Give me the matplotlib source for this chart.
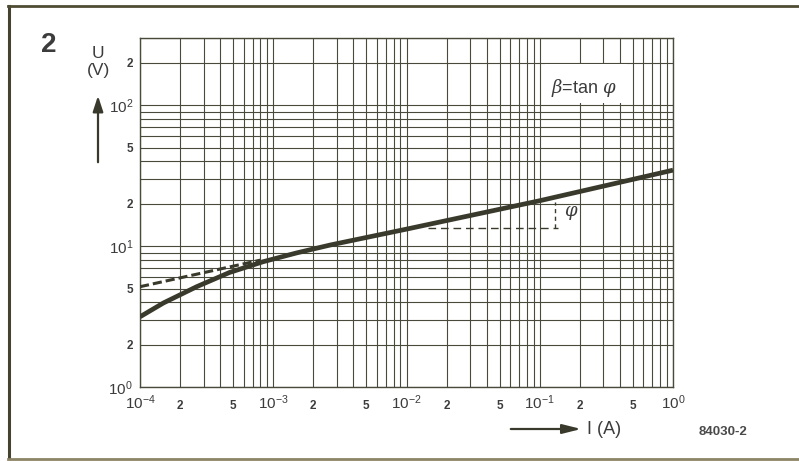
import numpy as np
import matplotlib.pyplot as plt
from matplotlib.patches import Rectangle, FancyArrowPatch
from matplotlib.lines import Line2D
from matplotlib.ticker import LogLocator

plt.rcParams['font.family'] = ['Liberation Sans', 'DejaVu Sans']
plt.rcParams['mathtext.fontset'] = 'custom'
plt.rcParams['mathtext.rm'] = 'Liberation Sans'
plt.rcParams['mathtext.it'] = 'DejaVu Serif:italic'

# values
I_curve = [1e-4, 1.5e-4, 2.66e-4, 4.7e-4, 8.4e-4, 1.5e-3, 2.7e-3, 1e-2, 1e-1, 1.0]
U_curve = [3.15, 3.95, 5.15, 6.5, 7.75, 8.95, 10.2, 13.2, 21.0, 34.6]
I_asym = [1e-4, 8e-4]
U_asym = [5.15, 7.95]
I_phi_h = [0.0145, 0.137]
U_phi_h = [13.35, 13.35]
I_phi_v = [0.13, 0.13]
U_phi_v = [13.35, 20.6]

x_ticks = [1e-4, 2e-4, 5e-4, 1e-3, 2e-3, 5e-3, 1e-2, 2e-2, 5e-2, 1e-1, 2e-1, 5e-1, 1.0]
x_labels = ['$10^{-4}$', '2', '5', '$10^{-3}$', '2', '5', '$10^{-2}$', '2', '5',
            '$10^{-1}$', '2', '5', '$10^{0}$']
y_ticks = [1, 2, 5, 10, 20, 50, 100, 200]
y_labels = ['$10^{0}$', '2', '5', '$10^{1}$', '2', '5', '$10^{2}$', '2']

ink = '#3a3a2c'
txt = '#3c3c3c'
W, H = 799, 461

def fx(x):
    return x / W

def fy(y):
    return 1 - y / H

fig = plt.figure(figsize=(7.99, 4.61), dpi=100)
fig.patch.set_facecolor('white')
ax = fig.add_axes([fx(140), fy(387), 533 / W, 349 / H])

ax.set_xscale('log')
ax.set_yscale('log')
ax.set_xlim(1e-4, 1)
ax.set_ylim(1, 300)

ax.set_xticks(x_ticks, x_labels)
ax.set_yticks(y_ticks, y_labels)
ax.xaxis.set_minor_locator(LogLocator(base=10, subs=np.arange(2, 10)))
ax.yaxis.set_minor_locator(LogLocator(base=10, subs=np.arange(2, 10)))
ax.xaxis.set_minor_formatter(plt.NullFormatter())
ax.yaxis.set_minor_formatter(plt.NullFormatter())
ax.tick_params(which='both', length=0, colors=txt)
ax.tick_params(axis='x', pad=16)
ax.tick_params(axis='y', pad=5)
ax.grid(True, which='both', color='#4a4a3c', lw=0.8)
for s in ax.spines.values():
    s.set_color('#4a4a3c')
    s.set_linewidth(1.0)

for lab in ax.get_xticklabels():
    lab.set_va('baseline')
    if lab.get_text() in ('2', '5'):
        lab.set_fontsize(8.5)
        lab.set_fontweight('bold')
    else:
        lab.set_fontsize(11)
for lab in ax.get_yticklabels():
    if lab.get_text() in ('2', '5'):
        lab.set_fontsize(8.5)
        lab.set_fontweight('bold')
    else:
        lab.set_fontsize(11)

# curves
ax.plot(I_curve, U_curve, color=ink, lw=3.4, solid_capstyle='butt',
        solid_joinstyle='round', zorder=4)
ax.plot(I_asym, U_asym, color=ink, lw=2.2, dashes=(3.0, 1.3), zorder=4)
ax.plot(I_phi_h, U_phi_h, color=ink, lw=1.0, dashes=(5.5, 3.5), zorder=4)
ax.plot(I_phi_v, U_phi_v, color=ink, lw=1.0, dashes=(3, 2.5), zorder=4)
ax.text(0.152, 17.1, r'$\varphi$', fontsize=13, color=txt, ha='left', va='center')

# white box behind the beta label
ax.add_patch(Rectangle((0.11, 103), 0.45 - 0.11, 196 - 103, facecolor='white',
                       edgecolor='none', zorder=2))
ax.text(0.214, 132, r'$\beta$=tan $\varphi$', fontsize=13, color=txt,
        ha='center', va='center', zorder=5)

# figure annotations
fig.text(fx(49), fy(45), '2', fontsize=20, fontweight='bold', color=txt,
         ha='center', va='center')
fig.text(fx(98), fy(53), 'U', fontsize=12.5, color=txt, ha='center', va='center')
fig.text(fx(99), fy(70), '(V)', fontsize=12.5, color=txt, ha='center', va='center')
fig.add_artist(FancyArrowPatch((fx(98), fy(165)), (fx(98), fy(93)),
                               transform=fig.transFigure, arrowstyle='-|>,head_length=0.67,head_width=0.22',
                               mutation_scale=14, lw=1.6, color=ink))
fig.add_artist(FancyArrowPatch((fx(508), fy(429)), (fx(584), fy(429)),
                               transform=fig.transFigure, arrowstyle='-|>,head_length=0.8,head_width=0.2',
                               mutation_scale=14, lw=1.6, color=ink))
fig.text(fx(587), fy(429), 'I (A)', fontsize=13, color=txt, ha='left', va='center')
fig.text(fx(723), fy(432), '84030-2', fontsize=9.5, fontweight='bold', color='#4a4a4a',
         ha='center', va='center')

# frame
fig.add_artist(Line2D([fx(8.5), fx(8.5)], [fy(6), fy(458)], transform=fig.transFigure,
                      color='#45432f', lw=2.2))
fig.add_artist(Line2D([fx(7.5), fx(800)], [fy(6), fy(6)], transform=fig.transFigure,
                      color='#4f4c34', lw=2.0))
fig.add_artist(Line2D([fx(7.5), fx(800)], [fy(458.5), fy(458.5)], transform=fig.transFigure,
                      color='#8c8466', lw=2.0))

fig.savefig('out.png', dpi=100)
